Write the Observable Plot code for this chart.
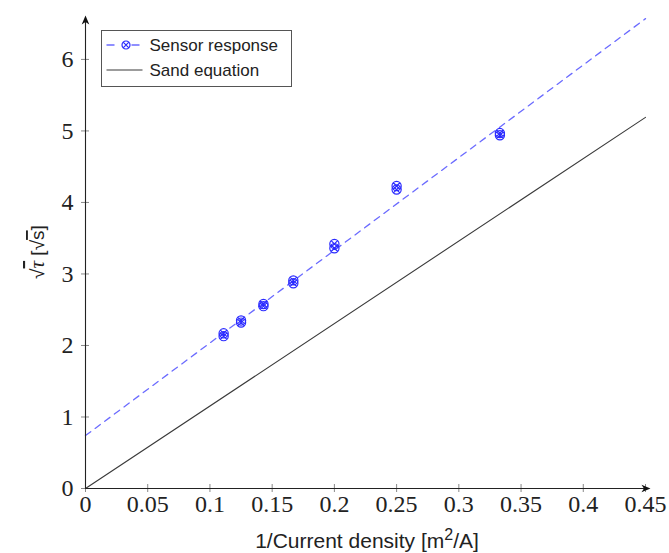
<!DOCTYPE html>
<html>
<head>
<meta charset="utf-8">
<script src="https://cdn.jsdelivr.net/npm/d3@7"></script>
<script src="https://cdn.jsdelivr.net/npm/@observablehq/plot@0.6"></script>
<style>
  html, body { margin: 0; padding: 0; background: #fff; }
  #chart { position: relative; width: 669px; height: 553px; }
</style>
</head>
<body>
<div id="chart"></div>
<script>
// ---- data ----
const xTickValues = [0, 0.05, 0.1, 0.15, 0.2, 0.25, 0.3, 0.35, 0.4, 0.45];
const xTickLabels = ["0", "0.05", "0.1", "0.15", "0.2", "0.25", "0.3", "0.35", "0.4", "0.45"];
const yTickValues = [0, 1, 2, 3, 4, 5, 6];
const yTickLabels = ["0", "1", "2", "3", "4", "5", "6"];

// measured sensor response (1/current density, sqrt(tau))
const invCurrent = [0.111, 0.111, 0.125, 0.125, 0.143, 0.143, 0.167, 0.167, 0.2, 0.2, 0.25, 0.25, 0.333, 0.333];
const sqrtTau    = [2.13, 2.17, 2.32, 2.35, 2.55, 2.58, 2.87, 2.91, 3.36, 3.42, 4.18, 4.23, 4.94, 4.97];

// fitted sensor line (dashed) and Sand equation line
const fitX = [0, 0.45];
const fitY = [0.74, 6.57];
const sandX = [0, 0.45];
const sandY = [0, 5.19];

// axis extents (arrow tips)
const xAxisEnd = 0.454;
const yAxisEnd = 6.615;

const seriesNames = ["Sensor response", "Sand equation"];

// ---- build tables ----
const points = invCurrent.map((x, i) => ({x, y: sqrtTau[i]}));
const fit = fitX.map((x, i) => ({x, y: fitY[i]}));
const sand = sandX.map((x, i) => ({x, y: sandY[i]}));

const otimes = {
  draw(ctx, size) {
    const r = Math.sqrt(size / Math.PI);
    ctx.moveTo(r, 0);
    ctx.arc(0, 0, r, 0, 2 * Math.PI);
    const a = r * Math.SQRT1_2;
    ctx.moveTo(-a, -a); ctx.lineTo(a, a);
    ctx.moveTo(-a, a); ctx.lineTo(a, -a);
  }
};
const arrowRight = {
  draw(ctx) {
    ctx.moveTo(0, 0); ctx.lineTo(-9, -3.8); ctx.lineTo(-6.5, 0); ctx.lineTo(-9, 3.8); ctx.closePath();
  }
};
const arrowUp = {
  draw(ctx) {
    ctx.moveTo(0, 0); ctx.lineTo(-3.8, 9); ctx.lineTo(0, 6.5); ctx.lineTo(3.8, 9); ctx.closePath();
  }
};

const serif = "'Liberation Serif', 'DejaVu Serif', serif";
const sans = "'Liberation Sans', Arial, sans-serif";
const blueLine = "#6b6bff";
const blueMark = "#2b2bff";

const plot = Plot.plot({
  width: 669,
  height: 553,
  marginLeft: 85,
  marginRight: 24,
  marginTop: 16,
  marginBottom: 65,
  x: {domain: [0, 0.45], label: null},
  y: {domain: [0, 6.6], label: null},
  style: {background: "#fff", overflow: "visible"},
  marks: [
    // sand equation line
    Plot.line(sand, {x: "x", y: "y", stroke: "#3a3a3a", strokeWidth: 1.1}),
    // fitted dashed line
    Plot.line(fit, {x: "x", y: "y", stroke: blueLine, strokeWidth: 1.3, strokeDasharray: "6.5,5.5"}),
    // measurements
    Plot.dot(points, {x: "x", y: "y", r: 4.6, symbol: otimes, stroke: blueMark, fill: "none", strokeWidth: 1.2}),
    // tick marks crossing the axes
    Plot.axisX({ticks: xTickValues, tickSize: 8, dy: -4, text: null, label: null, stroke: "#888", strokeWidth: 1}),
    Plot.axisY({ticks: yTickValues, tickSize: 8, dx: 4, text: null, label: null, stroke: "#888", strokeWidth: 1}),
    // tick labels
    Plot.axisX({ticks: xTickValues, tickSize: 0, tickPadding: 6, tickFormat: (d, i) => xTickLabels[i],
      fontSize: 24, fontFamily: serif, fill: "#222", label: null}),
    Plot.axisY({ticks: yTickValues, tickSize: 0, tickPadding: 12, tickFormat: (d, i) => yTickLabels[i],
      fontSize: 24, fontFamily: serif, fill: "#222", label: null}),
    // axis lines with arrows
    Plot.ruleY([0], {x1: 0, x2: xAxisEnd - 0.004, stroke: "#222", strokeWidth: 1.1}),
    Plot.ruleX([0], {y1: 0, y2: yAxisEnd - 0.08, stroke: "#222", strokeWidth: 1.1}),
    Plot.dot([{x: xAxisEnd, y: 0}], {x: "x", y: "y", symbol: arrowRight, fill: "#111", stroke: "none", r: 5}),
    Plot.dot([{x: 0, y: yAxisEnd}], {x: "x", y: "y", symbol: arrowUp, fill: "#111", stroke: "none", r: 5})
  ]
});

document.getElementById("chart").appendChild(plot);

// ---- axis labels ----
const svg = d3.select(plot);
const yl = svg.append("text")
  .attr("transform", "translate(44,252) rotate(-90)")
  .attr("text-anchor", "middle")
  .attr("font-family", sans)
  .attr("font-size", 19)
  .attr("fill", "#222");
yl.append("tspan").text("\u221A");
yl.append("tspan").attr("font-family", serif).attr("font-style", "italic").attr("font-size", 21)
  .style("text-decoration", "overline").text("\u03C4");
yl.append("tspan").text(" [\u221A");
yl.append("tspan").style("text-decoration", "overline").text("s");
yl.append("tspan").text("]");

const xl = svg.append("text")
  .attr("x", 367)
  .attr("y", 548)
  .attr("text-anchor", "middle")
  .attr("font-family", sans)
  .attr("font-size", 21)
  .attr("fill", "#222");
xl.append("tspan").text("1/Current density [m");
xl.append("tspan").attr("dy", -8).attr("font-size", 16).text("2");
xl.append("tspan").attr("dy", 8).text("/A]");

// ---- legend ----
const lg = svg.append("g").attr("transform", "translate(101.5,30.5)").attr("text-anchor", "start");
lg.append("rect").attr("width", 190).attr("height", 56).attr("fill", "#fff").attr("stroke", "#555").attr("stroke-width", 1);
// row 1
lg.append("line").attr("x1", 5).attr("x2", 39).attr("y1", 14.5).attr("y2", 14.5)
  .attr("stroke", blueLine).attr("stroke-width", 1.3).attr("stroke-dasharray", "8,17");
lg.append("path").attr("transform", "translate(24.5,14.5)")
  .attr("d", d3.symbol(otimes, Math.PI * 4 * 4)())
  .attr("fill", "none").attr("stroke", blueMark).attr("stroke-width", 1.2);
lg.append("text").attr("x", 48).attr("y", 20.5).attr("text-anchor", "start").attr("font-family", sans).attr("font-size", 17).attr("fill", "#222").text(seriesNames[0]);
// row 2
lg.append("line").attr("x1", 5).attr("x2", 41).attr("y1", 39.5).attr("y2", 39.5)
  .attr("stroke", "#3a3a3a").attr("stroke-width", 1.1);
lg.append("text").attr("x", 48).attr("y", 45).attr("text-anchor", "start").attr("font-family", sans).attr("font-size", 17).attr("fill", "#222").text(seriesNames[1]);
</script>
</body>
</html>
